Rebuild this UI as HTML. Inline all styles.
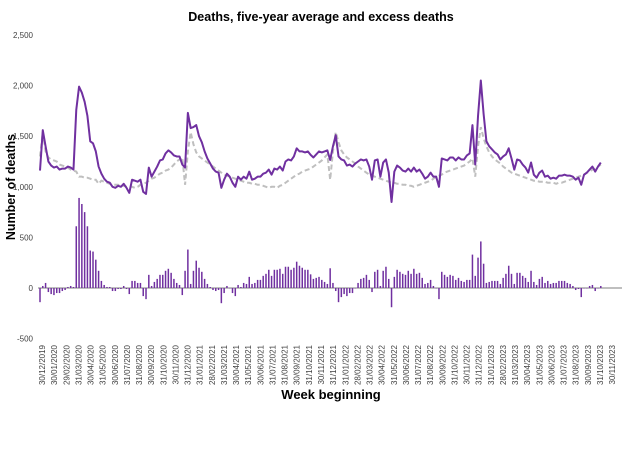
<!DOCTYPE html>
<html><head><meta charset="utf-8">
<style>
body{margin:0;background:#fff;width:639px;height:457px;overflow:hidden;font-family:"Liberation Sans",sans-serif}
svg{display:block}
</style></head>
<body>
<svg id="chart" width="639" height="457" viewBox="0 0 639 457" xmlns="http://www.w3.org/2000/svg">
<text x="321" y="21" text-anchor="middle" font-size="12.5" font-weight="bold" fill="#000">Deaths, five-year average and excess deaths</text>
<text transform="translate(15,187) rotate(-90)" text-anchor="middle" font-size="12.5" font-weight="bold" fill="#000">Number of deaths</text>
<text x="331" y="399" text-anchor="middle" font-size="13" font-weight="bold" fill="#000">Week beginning</text>
<g id="yticks"></g><g id="bars"></g><g id="lines"></g><g id="xticks"></g>
</svg>
<script>
const actual=[1160,1560,1400,1250,1210,1190,1200,1170,1180,1180,
1200,1190,1170,1760,1990,1930,1840,1700,1450,1430,
1350,1200,1130,1080,1050,1040,1000,990,1010,1000,
1030,990,940,1070,1060,1050,1070,950,930,1190,
1100,1150,1200,1260,1270,1330,1360,1340,1310,1300,
1300,1220,1190,1730,1580,1590,1610,1500,1440,1350,
1280,1230,1180,1150,1140,990,1070,1130,1100,1040,
1000,1100,1070,1100,1080,1150,1070,1080,1100,1100,
1130,1140,1170,1120,1180,1170,1200,1160,1250,1270,
1260,1300,1380,1350,1350,1340,1350,1315,1290,1320,
1350,1340,1350,1360,1265,1400,1510,1300,1270,1260,
1210,1220,1200,1230,1250,1270,1260,1270,1200,1070,
1260,1270,1100,1240,1270,1140,850,1150,1210,1190,
1160,1150,1180,1150,1190,1150,1170,1130,1080,1100,
1140,1100,1100,1000,1280,1270,1260,1290,1290,1260,
1290,1270,1270,1310,1330,1610,1220,1700,2050,1720,
1450,1400,1370,1340,1320,1270,1300,1320,1380,1280,
1170,1270,1260,1220,1190,1140,1240,1120,1090,1140,
1160,1100,1110,1080,1090,1080,1110,1110,1120,1110,
1110,1100,1070,1090,1020,1120,1140,1170,1200,1150,
1200,1240];
const expected=[1300,1540,1350,1290,1270,1260,1250,1220,1210,1200,
1190,1170,1160,1150,1100,1100,1090,1090,1080,1070,
1070,1030,1060,1050,1040,1030,1030,1020,1020,1010,
1010,1000,1000,1000,990,1000,1020,1030,1040,1060,
1080,1090,1110,1130,1140,1160,1170,1190,1220,1250,
1270,1290,1020,1350,1540,1420,1340,1300,1280,1260,
1240,1220,1200,1180,1160,1140,1120,1110,1100,1090,
1080,1070,1060,1050,1040,1040,1030,1030,1020,1020,
1010,1000,990,1000,1000,990,1010,1020,1040,1060,
1080,1100,1120,1130,1150,1160,1170,1180,1200,1220,
1240,1260,1290,1320,1070,1350,1540,1440,1360,1320,
1290,1270,1250,1230,1200,1180,1160,1140,1120,1110,
1100,1090,1080,1070,1060,1050,1040,1040,1030,1030,
1020,1020,1010,1010,1000,1010,1020,1030,1040,1050,
1060,1080,1100,1110,1120,1140,1150,1160,1170,1180,
1190,1200,1210,1230,1250,1280,1100,1400,1590,1480,
1400,1340,1300,1270,1250,1230,1200,1180,1160,1140,
1130,1120,1110,1100,1090,1080,1070,1060,1060,1050,
1050,1050,1040,1040,1040,1030,1040,1040,1050,1060,
1070,1080,1090,1100,1110,1120,1140,1150,1170,1180,
1200,1220];
const yTicks=[2500,2000,1500,1000,500,0,-500];
const yTickLabels=["2,500","2,000","1,500","1,000","500","0","-500"];
const xLabels=["30/12/2019","30/01/2020","29/02/2020","31/03/2020","30/04/2020","31/05/2020","30/06/2020","31/07/2020","31/08/2020","30/09/2020","31/10/2020","30/11/2020","31/12/2020","31/01/2021","28/02/2021","31/03/2021","30/04/2021","31/05/2021","30/06/2021","31/07/2021","31/08/2021","30/09/2021","31/10/2021","30/11/2021","31/12/2021","31/01/2022","28/02/2022","31/03/2022","30/04/2022","31/05/2022","30/06/2022","31/07/2022","31/08/2022","30/09/2022","31/10/2022","30/11/2022","31/12/2022","31/01/2023","28/02/2023","31/03/2023","30/04/2023","31/05/2023","30/06/2023","31/07/2023","31/08/2023","30/09/2023","31/10/2023","30/11/2023"];

const NS="http://www.w3.org/2000/svg";
const Y=v=>288-v*0.1012;
const X=i=>40+i*2.79;
const LX=i=>42+i*12.13;
function mk(tag,parent){const e=document.createElementNS(NS,tag);document.getElementById(parent).appendChild(e);return e;}

yTicks.forEach((t,i)=>{
  const e=mk('text','yticks');
  
  
  e.setAttribute('x',33);e.setAttribute('y',Y(t)+3);
  e.setAttribute('text-anchor','end');e.setAttribute('font-size','8');e.setAttribute('fill','#404040');
  e.textContent=yTickLabels[i];
});
const zl=mk('line','yticks');


zl.setAttribute('x1',38);zl.setAttribute('x2',622);zl.setAttribute('y1',Y(0));zl.setAttribute('y2',Y(0));
zl.setAttribute('stroke','#7f7f7f');zl.setAttribute('stroke-width','1');

actual.forEach((a,i)=>{
  const ex=a-expected[i];
  const r=mk('rect','bars');
  
  
  const y0=Y(0),y1=Y(ex);
  r.setAttribute('x',X(i)-0.75);r.setAttribute('width',1.5);
  r.setAttribute('y',Math.min(y0,y1));r.setAttribute('height',Math.max(0.5,Math.abs(y1-y0)));
  r.setAttribute('fill','#7030a0');
});
const pe=mk('polyline','lines');


pe.setAttribute('points',expected.map((v,i)=>X(i)+','+Y(v)).join(' '));
pe.setAttribute('fill','none');pe.setAttribute('stroke','#bfbfbf');pe.setAttribute('stroke-width','2');pe.setAttribute('stroke-dasharray','5,3');
const pa=mk('polyline','lines');


pa.setAttribute('points',actual.map((v,i)=>X(i)+','+Y(v)).join(' '));
pa.setAttribute('fill','none');pa.setAttribute('stroke','#7030a0');pa.setAttribute('stroke-width','2');pa.setAttribute('stroke-linejoin','round');

xLabels.forEach((l,i)=>{
  const e=mk('text','xticks');
  
  
  e.setAttribute('transform','translate('+(LX(i)+3)+',345) rotate(-90)');
  e.setAttribute('text-anchor','end');e.setAttribute('font-size','8');e.setAttribute('fill','#404040');
  e.textContent=l;
});
</script>
</body></html>
